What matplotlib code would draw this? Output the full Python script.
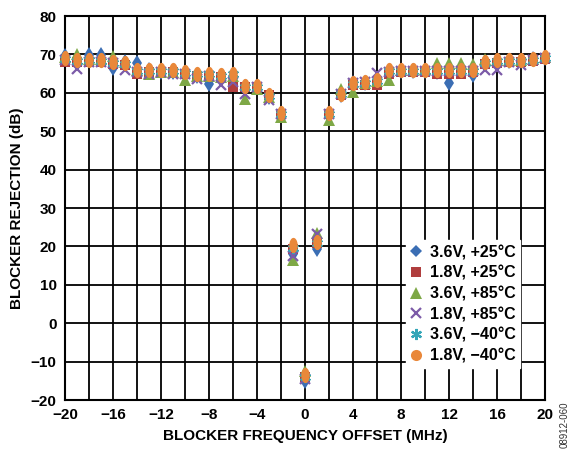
import numpy as np
import matplotlib
matplotlib.use("Agg")
import matplotlib.pyplot as plt
from matplotlib.lines import Line2D

plt.rcParams['font.family'] = ['Liberation Sans', 'DejaVu Sans']
plt.rcParams['font.weight'] = 'bold'

freq = list(range(-20, 21))

b_36_25 = [69.5, 69, 69.8, 69.8, 66.5, 68, 67.8, 66, 65.5, 65.5, 65, 64.5, 62.4, 64, 64.5, 61.5, 61.5, 59, 54.5,
           18, -15, 19.2,
           54, 59.5, 62.5, 62.5, 63, 65.5, 65.8, 65.8, 65.8, 65.5, 62.6, 65.8, 64.6, 67.5, 68.2, 68.3, 68.3, 68.7, 69]
r_18_25 = [68, 68, 68, 68, 67.5, 67.3, 65, 65.5, 65.5, 65.5, 65, 64.5, 64.5, 64, 61.5, 61.5, 61.5, 59.5, 54.5,
           19.4, -14, 21,
           54.5, 59.5, 62, 62, 62, 65, 65.3, 65.3, 65.3, 65, 65, 65, 65.3, 67.5, 67.8, 68, 68, 68.3, 68.7]
g_36_85 = [69.3, 70.2, 68.8, 68.8, 69.5, 68, 66, 65, 65.5, 65.5, 63.3, 64.5, 64.5, 64, 64.5, 58.5, 61, 59, 53.7,
           16.5, -12.5, 23.5,
           53, 61, 60.3, 62.5, 63, 63.3, 66, 66, 66.3, 67.8, 67.8, 67.8, 67.5, 68.9, 68.5, 68.5, 68.5, 68.7, 69.2]
p_18_85 = [68.5, 66.3, 68, 68, 67.8, 65.9, 65.5, 65, 65.3, 65, 65, 63.7, 64.5, 62, 62.8, 59.8, 61.5, 58, 54.5,
           17.5, -14.5, 23.3,
           54.5, 59.8, 62.5, 62.8, 65.2, 65.5, 65.7, 65.7, 65.7, 65.7, 65.7, 65.7, 65.7, 65.9, 66, 68, 67.2, 68.5, 69]
t_36_m40 = [68.8, 68.3, 68.5, 68.3, 67.8, 67.5, 65.7, 65.7, 65.7, 65.7, 65.2, 64.8, 64.8, 64.4, 64.8, 61.5, 61.5, 59.2, 54.5,
            19.5, -14, 21,
            54.5, 59.6, 62.4, 62.6, 63.1, 65.7, 65.8, 65.8, 65.8, 65.8, 65.8, 65.8, 65.8, 67.8, 68.3, 68.3, 68.3, 68.5, 69]
o_18_m40 = [69, 68.5, 68.5, 68.5, 68, 67.8, 65.9, 65.9, 65.9, 65.9, 65.4, 65, 65, 64.6, 65, 61.7, 61.7, 59.4, 54.7,
            20.3, -13.6, 21.2,
            54.7, 59.8, 62.6, 62.8, 63.3, 65.9, 66, 66, 66, 66, 66, 66, 66, 68, 68.5, 68.5, 68.5, 68.7, 69.2]

labels = ["3.6V, +25°C", "1.8V, +25°C", "3.6V, +85°C", "1.8V, +85°C", "3.6V, −40°C", "1.8V, −40°C"]
colors = ["#3B6EB4", "#B03E3E", "#7EA846", "#7C5BA8", "#33A6B8", "#E9883A"]

t = np.linspace(0, 2 * np.pi, 41)
ellipse = np.column_stack([0.55 * np.cos(t), np.sin(t)])

fig = plt.figure(figsize=(5.72, 4.49), dpi=100)
ax = fig.add_axes([65 / 572, 1 - 400 / 449, 480 / 572, 384 / 449])

series = [b_36_25, r_18_25, g_36_85, p_18_85, t_36_m40, o_18_m40]
styles = [dict(marker='d', ms=8, mew=0),
          dict(marker='s', ms=7, mew=0),
          dict(marker='^', ms=8, mew=0),
          dict(marker='x', ms=7, mew=1.6),
          dict(marker=(6, 2, 0), ms=8, mew=1.6),
          dict(marker=ellipse, ms=11, mew=0)]
for vals, c, st in zip(series, colors, styles):
    ax.plot(freq, vals, linestyle='none', color=c, zorder=3, clip_on=False, **st)

ax.set_xlim(-20, 20)
ax.set_ylim(-20, 80)
ax.set_xticks(range(-20, 21, 4))
ax.set_xticks(range(-18, 20, 4), minor=True)
ax.set_yticks(range(-20, 81, 10))
ax.grid(True, which='both', color='black', linewidth=1.3, zorder=1)
ax.tick_params(which='both', length=0, labelsize=11, pad=6)
for lab in ax.get_xticklabels() + ax.get_yticklabels():
    lab.set_fontweight('bold')
for s in ax.spines.values():
    s.set_linewidth(1.5)
    s.set_color('black')
ax.set_axisbelow(True)

ax.set_xlabel("BLOCKER FREQUENCY OFFSET (MHz)", fontsize=11, fontweight='bold', labelpad=5)
ax.set_ylabel("BLOCKER REJECTION (dB)", fontsize=11, fontweight='bold', labelpad=5)

leg_styles = [dict(marker='D', ms=6.5, mew=0),
              dict(marker='s', ms=7.5, mew=0),
              dict(marker='^', ms=8, mew=0),
              dict(marker='x', ms=7, mew=1.6),
              dict(marker=(6, 2, 0), ms=8, mew=1.6),
              dict(marker='o', ms=8, mew=0)]
handles = [Line2D([], [], linestyle='none', color=c, **st) for c, st in zip(colors, leg_styles)]
leg = ax.legend(handles, labels, loc='lower left', bbox_to_anchor=(0.71, 0.083),
                frameon=True, fancybox=False, framealpha=1, edgecolor='white',
                handlelength=0.7, handletextpad=0.5, labelspacing=0.35, borderpad=0.3,
                borderaxespad=0, prop={'size': 11.5, 'weight': 'bold'})
leg.set_zorder(5)

fig.text(0.987, 0.055, "08912-060", rotation=90, fontsize=7, ha='center', va='center',
         fontweight='normal', color='#333333')

fig.savefig("out.png", dpi=100)
